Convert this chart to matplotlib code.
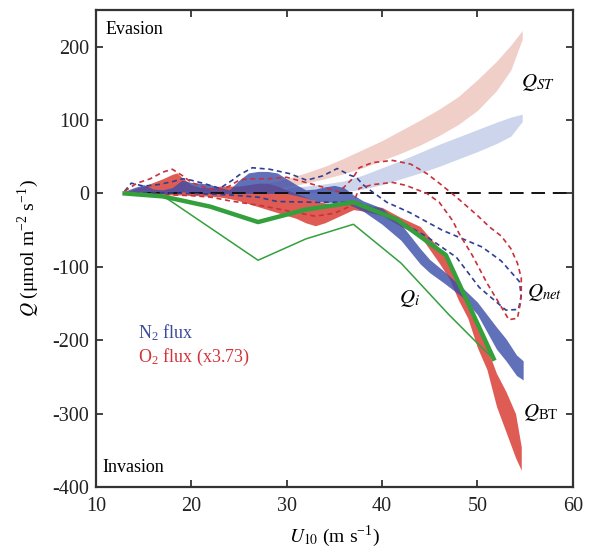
import matplotlib
matplotlib.use("Agg")
import matplotlib.pyplot as plt
import numpy as np

plt.rcParams["font.family"] = ["Liberation Serif", "DejaVu Serif"]
plt.rcParams["mathtext.fontset"] = "stix"
plt.rcParams["axes.unicode_minus"] = False

# ---- wind speed grid and flux envelopes (umol m-2 s-1) ----
# Bubble-transfer flux, N2
bt_n2_x = [13, 14, 15, 16, 17, 18, 19, 20, 21, 22, 23, 24, 25, 26, 27, 28, 29, 30,
           31, 32, 33, 34, 35, 36, 37, 38, 40, 42, 44, 45, 46.5, 48.4, 50, 52, 53, 54.1, 54.8]
bt_n2_hi = [3, 8, 12, 6, 5, 8, 18, 15, 14, 12, 8, 5, 18, 28, 30, 30, 28, 20,
            12, 5, 6, 9, 11, 8, -2, -10, -20, -42, -75, -90, -106, -128, -148, -182, -198, -220, -228]
bt_n2_lo = [0, 0, 2, 0, 0, 0, 2, 2, 0, 0, 0, 0, 0, 0, 0, 0, 0, 0,
            -3, -6, -10, -12, -12, -12, -18, -24, -42, -64, -96, -108, -122, -141, -165, -212, -228, -248, -254]

# Bubble-transfer flux, O2 (scaled x3.73)
bt_o2_x = [13, 14, 15, 16, 17, 18, 18.5, 19, 20, 21, 22, 23, 24, 25, 26, 27, 28, 29, 30,
           31, 32, 33, 34, 35, 36, 37, 38, 40, 42, 44, 46, 47, 48, 49, 50, 51, 52, 53, 54, 54.6]
bt_o2_hi = [2, 6, 10, 15, 20, 26, 28, 22, 12, 8, 8, 10, 10, 10, 12, 14, 14, 10, 5,
            0, -5, -10, -13, -14, -15, -15, -16, -19, -33, -45, -75, -95, -120, -145, -180, -210, -245, -270, -300, -345]
bt_o2_lo = [0, 0, 0, -1, -1, -2, -2, -2, -3, -3, -4, -5, -7, -10, -14, -18, -22, -26, -30,
            -34, -40, -44, -40, -34, -28, -22, -24, -30, -45, -58, -95, -115, -145, -170, -210, -240, -290, -325, -360, -377]

# Surface-transfer flux envelopes
st_o2_x = [28, 30, 32, 34, 36, 38, 40, 42, 44, 46, 48, 50, 52, 53.5, 54.7]
st_o2_hi = [14, 20, 28, 37, 48, 60, 72, 86, 100, 115, 132, 155, 180, 202, 222]
st_o2_lo = [4, 9, 14, 20, 27, 35, 45, 55, 66, 79, 94, 113, 140, 168, 210]

st_n2_x = [30, 32, 34, 36, 38, 40, 42, 44, 46, 48, 50, 52, 53.5, 54.7]
st_n2_hi = [8, 10, 13, 17, 25, 35, 45, 56, 67, 77, 87, 97, 104, 108]
st_n2_lo = [0, 1, 2, 2, 6, 12, 20, 28, 37, 47, 57, 68, 78, 98]

# Net flux envelopes (outlined)
net_n2_up_x = [13, 13.7, 15, 16.5, 18, 19.1, 20, 21.2, 23, 24.3, 25, 26.4, 28.2, 30.3, 32.1, 33.8,
               35.3, 36.6, 37.3, 38, 39, 40.5, 42.9, 46.3, 50.5, 52.5, 54.4, 54.6, 54.3]
net_n2_up_y = [3, 14, 10, 12, 16, 20, 18, 14, 7, 18, 25, 35, 33, 27, 18, 24,
               34, 25, 22, 12, 2, -12, -26, -50, -73, -92, -120, -140, -158]
net_n2_lo_x = [13, 16, 20, 24, 27, 29, 33, 36, 37.3, 39, 41.1, 44.7, 47.8, 50.2, 53]
net_n2_lo_y = [0, 1, 0, -2, -5, -11, -12, -12, -12, -20, -32, -59, -87, -128, -159]

net_o2_up_x = [13, 14.3, 15.7, 17, 18, 19.1, 20, 21, 22, 23, 24, 25, 26, 28, 30, 32, 34, 35.5,
               36.9, 37.6, 39, 41.1, 43, 44.7, 46, 47.8, 50, 51.3, 52.5, 53.5, 54.2, 54.6, 54.6, 54.5, 54.2]
net_o2_up_y = [3, 14, 20, 29, 33, 24, 15, 10, 6, 5, 10, 18, 20, 20, 22, 15, 8, 2,
               20, 35, 42, 45, 40, 27, 14, -5, -30, -46, -58, -75, -95, -115, -132, -150, -170]
net_o2_lo_x = [13, 16, 20, 22, 24, 27.5, 31, 33, 35, 36.9, 37.6, 39, 41.1, 42.5, 44.7,
               46, 47.4, 48.1, 49.5, 51, 52.3, 53.3]
net_o2_lo_y = [0, -1, -3, -5, -10, -17, -26, -31, -27, -16, 7, 12, 15, 11, 0,
               -12, -37, -55, -85, -122, -150, -172]

# Injection flux
qi_thick_x = [13, 17, 22, 27, 32, 37, 41.5, 46.7, 51.7]
qi_thick_y = [0, -4, -18, -39, -22, -12, -35, -84, -225]
qi_thin_x = [13, 17, 27, 32, 37, 42, 47, 50.3, 51.7]
qi_thin_y = [0, -3, -91, -62, -42, -95, -165, -208, -225]

x_ticks = [10, 20, 30, 40, 50, 60]
y_ticks = [-400, -300, -200, -100, 0, 100, 200]

c_red = "#dc4a42"
c_blue = "#3a4ea8"
c_red_light = "#f1cfc9"
c_blue_light = "#cdd5ec"
c_red_dash = "#c8303c"
c_blue_dash = "#2f3f92"
c_green = "#33a03c"

fig = plt.figure(figsize=(5.96, 5.51), dpi=100)
ax = fig.add_axes([0.161, 0.116, 0.800, 0.866])

ax.fill_between(st_o2_x, st_o2_lo, st_o2_hi, color=c_red_light, lw=0, zorder=1)
ax.fill_between(st_n2_x, st_n2_lo, st_n2_hi, color=c_blue_light, lw=0, zorder=1.1)

ax.fill_between(bt_o2_x, bt_o2_lo, bt_o2_hi, color=c_red, alpha=0.9, lw=0, zorder=2)
ax.fill_between(bt_n2_x, bt_n2_lo, bt_n2_hi, color=c_blue, alpha=0.8, lw=0, zorder=2.1)

ax.plot([13, 60], [0, 0], color="#111111", lw=1.4, ls=(0, (7, 4)), zorder=2.5)

ax.plot(net_n2_up_x + net_n2_lo_x[::-1], net_n2_up_y + net_n2_lo_y[::-1],
        color=c_blue_dash, lw=1.2, ls=(0, (3, 2.2)), zorder=3)
ax.plot(net_o2_up_x + net_o2_lo_x[::-1], net_o2_up_y + net_o2_lo_y[::-1],
        color=c_red_dash, lw=1.2, ls=(0, (3, 2.2)), zorder=3)

ax.plot(qi_thin_x, qi_thin_y, color=c_green, lw=1.1, zorder=4)
ax.plot(qi_thick_x, qi_thick_y, color=c_green, lw=3.2, zorder=4)

ax.set_xlim(10, 60)
ax.set_ylim(-400, 250)
ax.set_xticks(x_ticks)
ax.set_yticks(y_ticks)
ax.tick_params(direction="in", length=5, width=1.2, top=True, right=True,
               labelsize=14.5, colors="#222222", pad=5)
ax.tick_params(axis="x", pad=7)
for s in ax.spines.values():
    s.set_linewidth(1.6)
    s.set_color("#333333")

ax.set_xlabel(r"$U_{10}$ (m s$^{\mathregular{-1}}$)", fontsize=14, labelpad=6)
ax.set_ylabel(r"$Q$ ($\mathregular{\mu}$mol m$^{\mathregular{-2}}$ s$^{\mathregular{-1}}$)", fontsize=14, labelpad=8)

ax.text(11.05, 223, "Evasion", fontsize=13, va="center", ha="left")
ax.text(10.7, -374, "Invasion", fontsize=13, va="center", ha="left")
ax.text(14.4, -190, r"N$_\mathregular{2}$ flux", fontsize=13, color="#3d4a9c", va="center", ha="left")
ax.text(14.4, -224, r"O$_\mathregular{2}$ flux (x3.73)", fontsize=13, color="#d2343a", va="center", ha="left")
ax.text(54.6, 151, r"$Q_{ST}$", fontsize=15, va="center", ha="left")
ax.text(55.2, -135, r"$Q_{net}$", fontsize=15, va="center", ha="left")
ax.text(41.8, -143, r"$Q_i$", fontsize=15, va="center", ha="left")
ax.text(54.8, -299, r"$Q_{\mathregular{BT}}$", fontsize=15, va="center", ha="left")

fig.savefig("out.png", dpi=100)
